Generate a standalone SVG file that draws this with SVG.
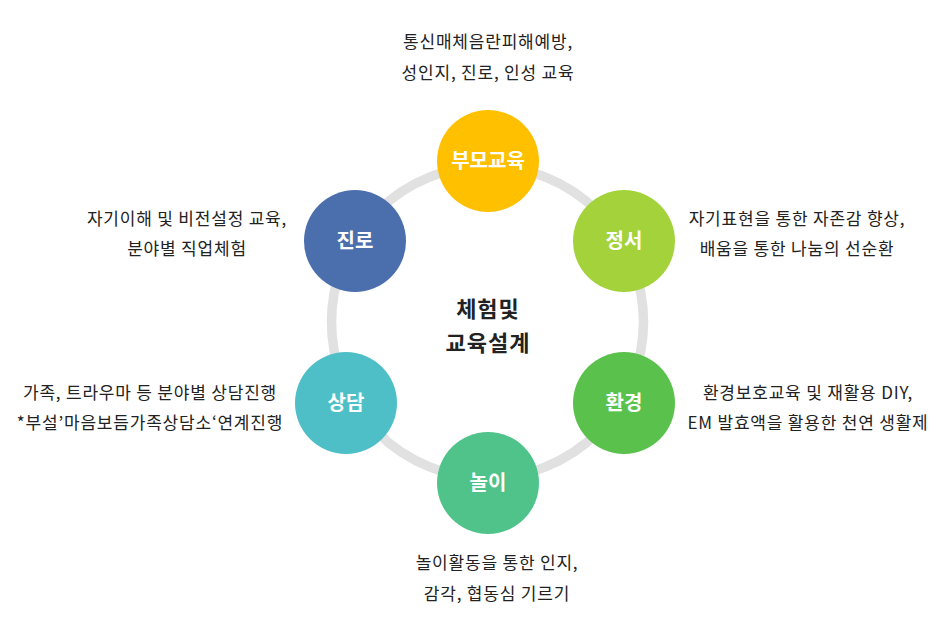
<svg xmlns="http://www.w3.org/2000/svg" width="949" height="634" viewBox="0 0 949 634">
<style>
.desc{font-family:"Noto Sans CJK KR","Noto Sans",sans-serif;font-size:17px;letter-spacing:0.8px;fill:#222;text-anchor:middle}
.lbl{font-family:"Noto Sans CJK KR","Noto Sans",sans-serif;font-size:20px;font-weight:bold;fill:#fff;text-anchor:middle}
.ctr{font-family:"Noto Sans CJK KR","Noto Sans",sans-serif;font-size:22px;letter-spacing:1px;font-weight:bold;fill:#222;text-anchor:middle}
</style>
<rect width="949" height="634" fill="#fff"/>
<g id="connectors">
<circle cx="487.5" cy="322" r="156" fill="none" stroke="#e1e1e1" stroke-width="9.5"/>
</g>
<g id="center">
<text class="ctr" x="488" y="317">체험및</text>
<text class="ctr" x="488" y="351">교육설계</text>
</g>
<g id="parent">
<circle cx="488" cy="161" r="51" fill="#ffc000"/>
<text class="lbl" x="488" y="168">부모교육</text>
<text class="desc" x="488" y="48">통신매체음란피해예방,</text>
<text class="desc" x="488" y="79">성인지, 진로, 인성 교육</text>
</g>
<g id="emotion">
<circle cx="624" cy="241" r="51" fill="#a3d23b"/>
<text class="lbl" x="624" y="248">정서</text>
<text class="desc" x="797" y="225">자기표현을 통한 자존감 향상,</text>
<text class="desc" x="797" y="255">배움을 통한 나눔의 선순환</text>
</g>
<g id="environment">
<circle cx="624" cy="403" r="51" fill="#5ac24c"/>
<text class="lbl" x="624" y="410">환경</text>
<text class="desc" x="808" y="399">환경보호교육 및 재활용 DIY,</text>
<text class="desc" x="808" y="429">EM 발효액을 활용한 천연 생활제</text>
</g>
<g id="play">
<circle cx="488" cy="483" r="51" fill="#4fc38a"/>
<text class="lbl" x="488" y="490">놀이</text>
<text class="desc" x="497" y="569">놀이활동을 통한 인지,</text>
<text class="desc" x="497" y="600">감각, 협동심 기르기</text>
</g>
<g id="counsel">
<circle cx="346" cy="403" r="51" fill="#4ebfc6"/>
<text class="lbl" x="346" y="410">상담</text>
<text class="desc" x="150" y="399">가족, 트라우마 등 분야별 상담진행</text>
<text class="desc" x="150" y="429">*부설’마음보듬가족상담소‘연계진행</text>
</g>
<g id="career">
<circle cx="355" cy="241" r="51" fill="#4b6ead"/>
<text class="lbl" x="355" y="248">진로</text>
<text class="desc" x="187" y="225">자기이해 및 비전설정 교육,</text>
<text class="desc" x="187" y="255">분야별 직업체험</text>
</g>
</svg>
